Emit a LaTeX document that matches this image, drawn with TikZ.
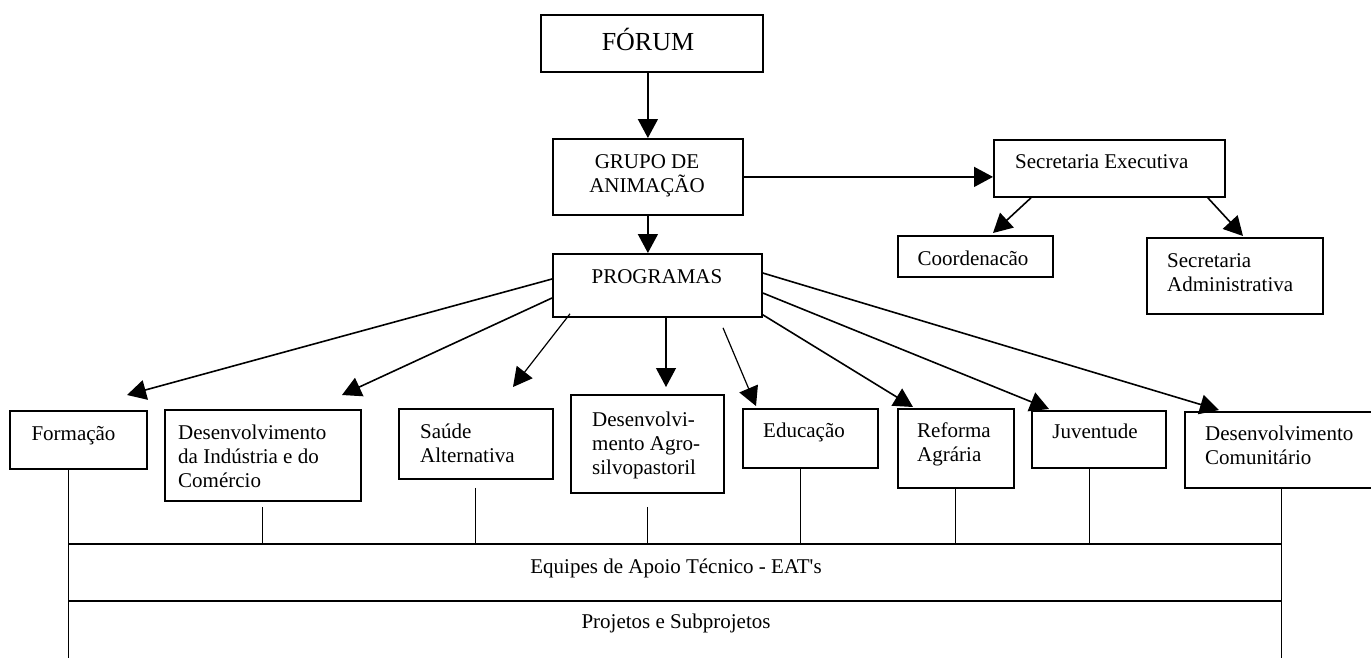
\documentclass[tikz,border=0pt]{standalone}
\usepackage{fontspec}
\setmainfont{Liberation Serif}
\usetikzlibrary{arrows.meta,calc}
\begin{document}
\begin{tikzpicture}[x=1pt,y=-1pt,
  box/.style={draw, line width=1.8pt, inner sep=0pt, anchor=north west},
  txt/.style={inner sep=0pt, font=\fontsize{21}{24}\selectfont},
  arr/.style={line width=1.6pt, -{Triangle[length=19pt,width=20pt]}},
  tarr/.style={line width=1.2pt, -{Triangle[length=19pt,width=20pt]}},
  thinline/.style={line width=1pt},
  barline/.style={line width=2pt}]
\useasboundingbox (0,0) rectangle (1371,657);

% top part (multi-line texts are anchored at the baseline of their last line)
\node[box, minimum width=222pt, minimum height=57pt] (forum) at (540,14) {};
\node[txt, font=\fontsize{26}{30}\selectfont, anchor=base] (forum-t) at (648,50) {FÓRUM};
\node[box, minimum width=190pt, minimum height=76pt] (grupo) at (552,138) {};
\node[txt, align=center, anchor=base] (grupo-t) at (647,192) {GRUPO DE\\ANIMAÇÃO};
\node[box, minimum width=209pt, minimum height=63pt] (programas) at (552,253) {};
\node[txt, anchor=base] (programas-t) at (657,283) {PROGRAMAS};
\node[box, minimum width=231pt, minimum height=57pt] (secexec) at (993,139) {};
\node[txt, anchor=base west] (secexec-t) at (1015,168) {Secretaria Executiva};
\node[box, minimum width=155pt, minimum height=41pt] (coord) at (897,235) {};
\node[txt, anchor=base] (coord-t) at (973,265) {Coordenacão};
\node[box, minimum width=176pt, minimum height=76pt] (secadm) at (1146,237) {};
\node[txt, align=left, anchor=base west] (secadm-t) at (1167,291) {Secretaria\\Administrativa};

% programmes row
\node[box, minimum width=137pt, minimum height=58pt] (formacao) at (9,410) {};
\node[txt, anchor=base] (formacao-t) at (73.5,440) {Formação};
\node[box, minimum width=196pt, minimum height=91pt] (desind) at (164,409) {};
\node[txt, align=left, anchor=base west] (desind-t) at (178,487) {Desenvolvimento\\da Indústria e do\\Comércio};
\node[box, minimum width=154pt, minimum height=70pt] (saude) at (398,408) {};
\node[txt, align=left, anchor=base west] (saude-t) at (420,462) {Saúde\\Alternativa};
\node[box, minimum width=153pt, minimum height=98pt] (agro) at (570,394) {};
\node[txt, align=left, anchor=base west] (agro-t) at (592,474) {Desenvolvi-\\mento Agro-\\silvopastoril};
\node[box, minimum width=135pt, minimum height=59pt] (educ) at (742,408) {};
\node[txt, anchor=base] (educ-t) at (804,437) {Educação};
\node[box, minimum width=116pt, minimum height=79pt] (reforma) at (897,408) {};
\node[txt, align=left, anchor=base west] (reforma-t) at (917,461) {Reforma\\Agrária};
\node[box, minimum width=134pt, minimum height=57pt] (juv) at (1031,410) {};
\node[txt, anchor=base] (juv-t) at (1095,438) {Juventude};
\node[box, minimum width=200pt, minimum height=76pt] (descom) at (1184,411) {};
\node[txt, align=left, anchor=base west] (descom-t) at (1205,464) {Desenvolvimento\\Comunitário};

% bottom bars
\node[inner sep=0pt, minimum width=1213pt, minimum height=57pt, anchor=north west] (eat) at (68,544) {};
\node[inner sep=0pt, minimum width=1213pt, minimum height=64pt, anchor=north west] (proj) at (68,601) {};
\node[txt, anchor=base] (eat-t) at (676,573) {Equipes de Apoio Técnico - EAT\textquotesingle s};
\node[txt, anchor=base] (proj-t) at (676,628) {Projetos e Subprojetos};
\draw[barline] (eat.north west) -- (eat.north east);
\draw[barline] (eat.south west) -- (eat.south east);
\draw[thinline] (formacao.south -| eat.west) -- (proj.south west);
\draw[thinline] (descom.south -| eat.east) -- (proj.south east);
\draw[thinline] ($(desind.south)+(0,5)$) -- (desind.south |- eat.north);
\draw[thinline] ($(saude.south)+(0,8)$) -- (saude.south |- eat.north);
\draw[thinline] ($(agro.south)+(0,13)$) -- (agro.south |- eat.north);
\coordinate (educ-c) at ($(educ.south west)+(58,0)$);
\draw[thinline] (educ-c) -- (educ-c |- eat.north);
\draw[thinline] (reforma.south) -- (reforma.south |- eat.north);
\coordinate (juv-c) at ($(juv.south west)+(58,0)$);
\draw[thinline] (juv-c) -- (juv-c |- eat.north);

% arrows
\draw[arr] (grupo.north |- forum.south) -- (grupo.north);
\draw[arr] (grupo.south) -- (grupo.south |- programas.north);
\draw[arr] (grupo.east) -- (grupo.east -| secexec.west);
\draw[arr] ($(secexec.south west)+(38,0)$) -- ($(coord.north west)+(96,-2)$);
\draw[arr] ($(secexec.south east)+(-18,0)$) -- ($(secadm.north west)+(97,-1)$);
\draw[arr] ($(programas.north west)+(0,26)$) -- ($(formacao.north west)+(118,-15)$);
\draw[arr] ($(programas.north west)+(0,45)$) -- ($(desind.north west)+(178,-14)$);
\draw[tarr] ($(programas.south west)+(18,-4)$) -- ($(saude.north west)+(115,-21)$);
\draw[tarr] ($(programas.south west)+(114,0)$) -- ($(agro.north west)+(96,-7)$);
\draw[tarr] ($(programas.south west)+(171,10)$) -- ($(educ.north west)+(14,-2)$);
\draw[arr] ($(programas.south east)+(0,-3)$) -- ($(reforma.north west)+(16,-1)$);
\draw[arr] ($(programas.north east)+(0,40)$) -- ($(juv.north west)+(18,-1)$);
\draw[arr] ($(programas.north east)+(0,20)$) -- ($(descom.north west)+(35,-1)$);
\end{tikzpicture}
\end{document}
